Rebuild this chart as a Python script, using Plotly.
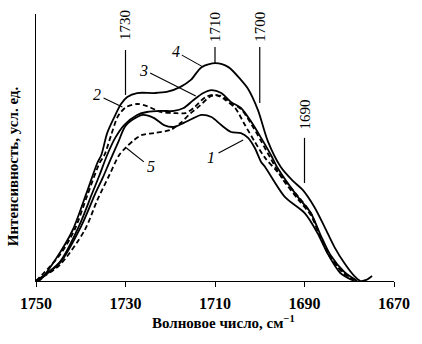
import plotly.graph_objects as go

# ---- data ----
w4 = [1750, 1749.1, 1744.7, 1741.8, 1738.7, 1736.3, 1735.4, 1734.1, 1732.5, 1731.0, 1729.6, 1727.4, 1723.6, 1720.8,
      1717.7, 1715.4, 1713.0, 1709.9, 1707.0, 1704.2, 1702.6, 1700.4, 1698.2, 1695.3, 1692.6, 1690.4, 1687.8,
      1685.5, 1683.3, 1681.1, 1678.9, 1677.5, 1676.2, 1674.9]
i4 = [0, 0.4, 10.5, 19.1, 33.0, 44.2, 47.2, 55.4, 61.4, 66.3, 68.9, 70.4, 70.4, 70.8,
      72.7, 75.3, 80.1, 81.6, 80.1, 75.3, 71.9, 64.0, 52.4, 42.7, 37.5, 34.1, 27.7,
      20.2, 12.7, 6.7, 1.9, 0, 0.4, 1.9]

w2 = [1750, 1744.7, 1741.4, 1738.5, 1735.8, 1734.7, 1733.2, 1731.8, 1731.0, 1729.8, 1727.4, 1725.2, 1722.1,
      1719.2, 1716.6, 1714.8, 1712.1, 1709.9, 1707.7, 1705.5, 1703.3, 1701.1, 1698.8, 1696.0, 1691.5, 1688.6,
      1686.4, 1684.2, 1681.1, 1678.2]
i2 = [0, 9.7, 19.1, 32.2, 44.2, 47.2, 54.7, 61.4, 63.3, 65.2, 66.3, 65.5, 63.3,
      62.9, 62.9, 64.8, 68.9, 69.7, 67.8, 64.8, 58.4, 52.1, 46.1, 40.8, 31.8, 25.5,
      16.5, 9.0, 3.0, 0]

w3 = [1750, 1744.7, 1740.3, 1737.6, 1735.8, 1734.1, 1732.3, 1730.3, 1727.4, 1725.2, 1722.1, 1719.2, 1717.0,
      1714.8, 1712.6, 1710.8, 1708.6, 1706.4, 1704.2, 1701.9, 1699.7, 1697.5, 1696.0, 1691.5, 1688.6, 1686.4,
      1684.2, 1681.1, 1678.2]
i3 = [0, 7.1, 20.9, 32.2, 39.7, 47.2, 53.6, 58.4, 62.2, 63.3, 63.7, 63.7, 64.8,
      67.8, 70.4, 71.5, 70.4, 67.0, 64.8, 59.6, 53.6, 47.2, 42.3, 31.5, 25.5, 17.2,
      9.7, 3.4, 0]

w1 = [1750, 1744.7, 1739.8, 1736.9, 1735.1, 1733.4, 1731.6, 1730.0, 1727.4, 1726.1, 1723.6, 1721.4, 1719.2,
      1717.0, 1714.8, 1713.0, 1710.8, 1708.6, 1706.4, 1704.2, 1702.6, 1701.1, 1699.7, 1698.8, 1694.4, 1690.0,
      1687.1, 1684.9, 1682.0, 1678.9]
i1 = [0, 6.7, 20.9, 32.2, 38.6, 45.3, 52.1, 58.1, 61.4, 62.2, 61.0, 58.4, 57.7,
      59.2, 61.0, 62.2, 61.4, 58.4, 55.8, 55.4, 53.6, 49.8, 44.6, 42.7, 31.5, 25.5,
      18.0, 10.5, 3.0, 0]

w5 = [1750, 1744.7, 1739.1, 1736.3, 1733.6, 1731.4, 1729.8, 1728.1, 1726.3, 1723.6, 1719.9, 1717.7, 1715.4,
      1713.7, 1710.8, 1708.6, 1706.4, 1704.2, 1701.9, 1699.7, 1697.5, 1694.9, 1691.5, 1688.6, 1686.4, 1684.2,
      1681.1, 1678.2]
i5 = [0, 6.0, 19.1, 30.3, 39.7, 47.2, 50.2, 52.8, 54.7, 55.4, 56.6, 59.2, 62.9,
      65.2, 69.3, 69.3, 66.7, 64.4, 58.8, 52.4, 45.7, 38.2, 30.7, 24.7, 16.1, 8.6,
      2.6, 0]

x_ticks = [1750, 1730, 1710, 1690, 1670]

# marked wavenumbers: vertical line bottom / top and label centre (intensity units)
mark_w = [1730, 1710, 1700, 1690]
mark_bottom = [69.7, 81.6, 66.7, 36.7]
mark_top = [86.5, 87.6, 87.6, 53.6]
mark_label_y = [95.7, 95.1, 95.1, 62.2]

# curve numbers: label position and leader line
curve_names = ["4", "3", "2", "5", "1"]
label_w = [1718.8, 1725.9, 1736.3, 1724.3, 1711.0]
label_i = [85.8, 79.0, 69.7, 42.7, 46.4]
lead_w0 = [1717.4, 1724.5, 1734.9, 1729.8, 1709.2]
lead_i0 = [84.6, 77.9, 68.5, 49.8, 47.9]
lead_w1 = [1712.6, 1714.3, 1730.7, 1725.9, 1703.7]
lead_i1 = [80.1, 69.3, 65.2, 44.6, 52.8]
# ---------------------------------------

SERIF = "Times New Roman"
fig = go.Figure()

series = [(w1, i1, "solid"), (w2, i2, "5px,3px"), (w3, i3, "solid"), (w4, i4, "solid"), (w5, i5, "5px,3px")]
for w, i, d in series:
    fig.add_trace(go.Scatter(x=w, y=i, mode="lines",
                             line=dict(color="black", width=1.8, dash=d, shape="spline", smoothing=0.8),
                             showlegend=False, hoverinfo="skip"))

for w, b, t, ly in zip(mark_w, mark_bottom, mark_top, mark_label_y):
    fig.add_shape(type="line", x0=w, x1=w, y0=b, y1=t, xref="x", yref="y",
                  line=dict(color="black", width=1.2))
    fig.add_annotation(x=w, y=ly, xref="x", yref="y", text=str(w), textangle=-90,
                       xanchor="center", yanchor="middle",
                       showarrow=False, font=dict(family=SERIF, size=15, color="black"))

for n, lw, li, a0, b0, a1, b1 in zip(curve_names, label_w, label_i, lead_w0, lead_i0, lead_w1, lead_i1):
    fig.add_shape(type="line", x0=a0, x1=a1, y0=b0, y1=b1, xref="x", yref="y",
                  line=dict(color="black", width=1.1))
    fig.add_annotation(x=lw, y=li, xref="x", yref="y", text=n, xanchor="center", yanchor="middle",
                       showarrow=False, font=dict(family=SERIF, size=16, color="black", style="italic"))

# axis titles
fig.add_annotation(x=0.525, y=-0.154, xref="paper", yref="paper", xanchor="center", yanchor="middle",
                   text="Волновое число, см<sup>−1</sup>", showarrow=False,
                   font=dict(family=SERIF, size=15, color="black", weight="bold"))
fig.add_annotation(x=-0.0635, y=0.431, xref="paper", yref="paper", xanchor="center", yanchor="middle",
                   text="Интенсивность, усл. ед.", textangle=-90, showarrow=False,
                   font=dict(family=SERIF, size=15, color="black", weight="bold"))

fig.update_layout(
    width=422, height=344,
    margin=dict(l=36, r=24, t=14, b=63),
    paper_bgcolor="white", plot_bgcolor="white",
    font=dict(family=SERIF, color="black"),
    xaxis=dict(range=[1750, 1670], tickvals=x_ticks,
               showgrid=False, zeroline=False, showline=True, linecolor="black", linewidth=1,
               ticks="outside", ticklen=5, tickcolor="black", tickwidth=1, ticklabelstandoff=3,
               tickfont=dict(family=SERIF, size=16, color="black", weight="bold")),
    yaxis=dict(range=[0, 100], showticklabels=False, ticks="", showgrid=False, zeroline=False,
               showline=True, linecolor="black", linewidth=1),
)

fig.write_html("out.html")
